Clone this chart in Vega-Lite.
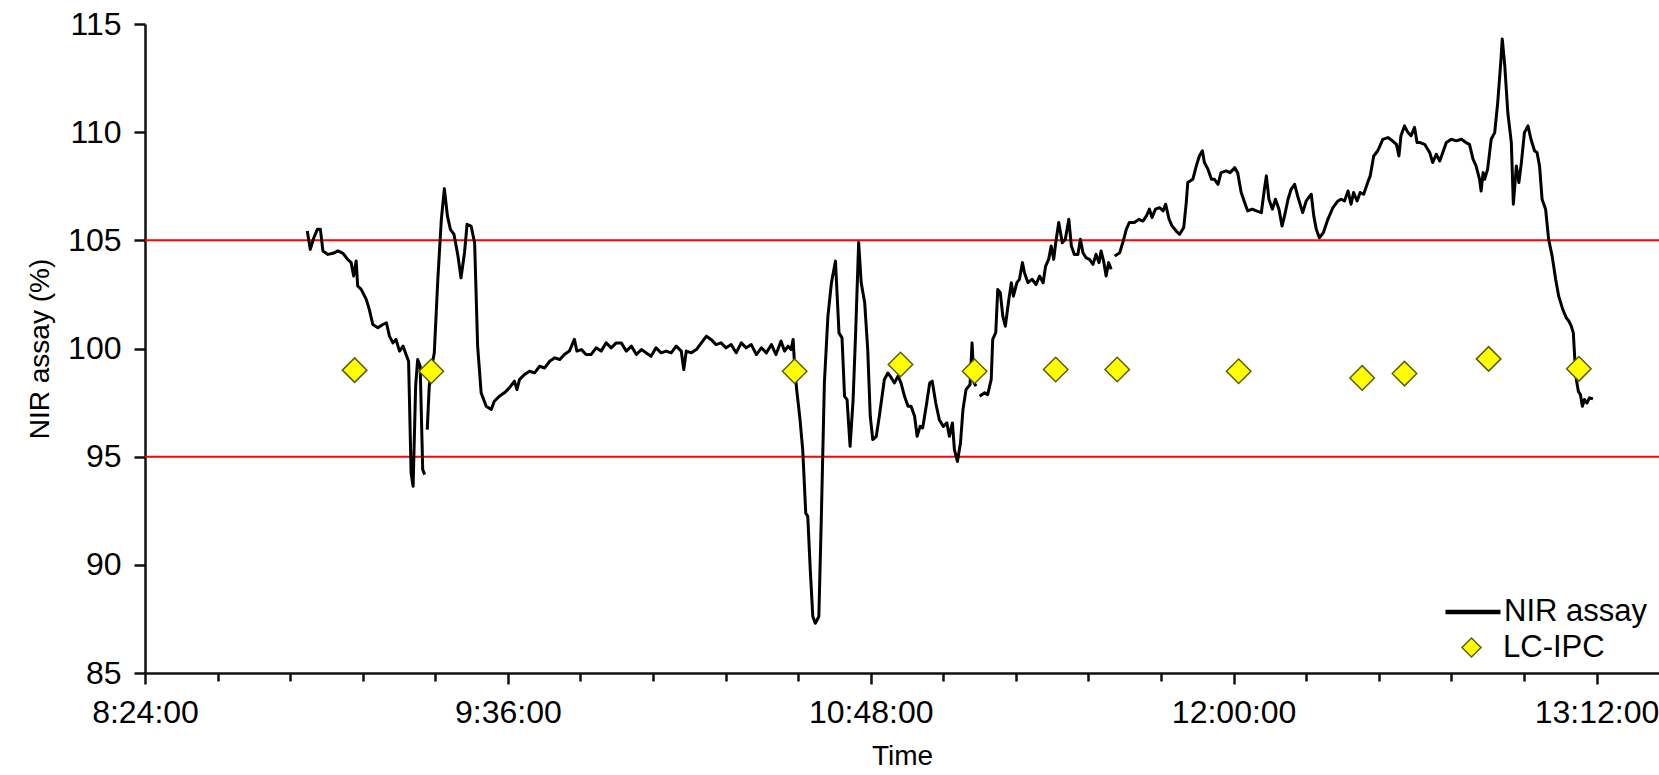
{
  "$schema": "https://vega.github.io/schema/vega-lite/v6.json",
  "width": 1514,
  "height": 649,
  "autosize": "none",
  "padding": {"left": 145, "top": 24, "right": 0, "bottom": 102},
  "background": "white",
  "config": {
    "view": {"stroke": null},
    "font": "Liberation Sans",
    "axis": {
      "grid": false,
      "domainColor": "#111111",
      "domainWidth": 2.5,
      "tickColor": "#111111",
      "tickWidth": 2.5,
      "labelColor": "#000000",
      "labelFont": "Liberation Sans",
      "labelFontSize": 32,
      "titleFont": "Liberation Sans",
      "titleFontSize": 28,
      "titleFontWeight": "normal",
      "titleColor": "#000000",
      "labelOverlap": false,
      "labelFlush": false
    }
  },
  "datasets": {
    "nir": [
      {"min": 536.2, "pct": 105.43, "seg": 1}, {"min": 536.8, "pct": 104.58, "seg": 1}, {"min": 537.5, "pct": 105.12, "seg": 1},
      {"min": 538.2, "pct": 105.51, "seg": 1}, {"min": 538.8, "pct": 105.51, "seg": 1}, {"min": 539.3, "pct": 104.51, "seg": 1},
      {"min": 540.3, "pct": 104.35, "seg": 1}, {"min": 541.3, "pct": 104.40, "seg": 1}, {"min": 542.3, "pct": 104.51, "seg": 1},
      {"min": 543.3, "pct": 104.40, "seg": 1}, {"min": 544.2, "pct": 104.12, "seg": 1}, {"min": 544.9, "pct": 103.97, "seg": 1},
      {"min": 545.4, "pct": 103.35, "seg": 1}, {"min": 545.9, "pct": 104.04, "seg": 1}, {"min": 546.2, "pct": 102.89, "seg": 1},
      {"min": 546.9, "pct": 102.73, "seg": 1}, {"min": 547.9, "pct": 102.27, "seg": 1}, {"min": 548.5, "pct": 101.81, "seg": 1},
      {"min": 549.2, "pct": 101.11, "seg": 1}, {"min": 550.2, "pct": 100.96, "seg": 1}, {"min": 551.2, "pct": 101.11, "seg": 1},
      {"min": 551.9, "pct": 101.19, "seg": 1}, {"min": 552.5, "pct": 100.57, "seg": 1}, {"min": 553.2, "pct": 100.26, "seg": 1},
      {"min": 553.8, "pct": 100.42, "seg": 1}, {"min": 554.5, "pct": 99.88, "seg": 1}, {"min": 555.2, "pct": 100.11, "seg": 1},
      {"min": 555.8, "pct": 99.72, "seg": 1}, {"min": 556.3, "pct": 99.41, "seg": 1}, {"min": 556.8, "pct": 94.24, "seg": 1},
      {"min": 557.2, "pct": 93.63, "seg": 1}, {"min": 557.7, "pct": 98.26, "seg": 1}, {"min": 558.1, "pct": 99.49, "seg": 1},
      {"min": 558.6, "pct": 99.18, "seg": 1}, {"min": 559.1, "pct": 94.40, "seg": 1}, {"min": 559.5, "pct": 94.17, "seg": 1},

      {"min": 560.0, "pct": 96.25, "seg": 2}, {"min": 560.4, "pct": 98.26, "seg": 2}, {"min": 560.8, "pct": 99.03, "seg": 2},
      {"min": 561.4, "pct": 99.80, "seg": 2}, {"min": 562.1, "pct": 103.19, "seg": 2}, {"min": 562.8, "pct": 105.97, "seg": 2},
      {"min": 563.4, "pct": 107.39, "seg": 2}, {"min": 564.0, "pct": 106.13, "seg": 2}, {"min": 564.6, "pct": 105.51, "seg": 2},
      {"min": 565.3, "pct": 105.28, "seg": 2}, {"min": 566.1, "pct": 104.27, "seg": 2}, {"min": 566.7, "pct": 103.27, "seg": 2},
      {"min": 567.4, "pct": 104.43, "seg": 2}, {"min": 567.9, "pct": 105.74, "seg": 2}, {"min": 568.7, "pct": 105.66, "seg": 2},
      {"min": 569.4, "pct": 104.89, "seg": 2}, {"min": 570.0, "pct": 100.11, "seg": 2}, {"min": 570.7, "pct": 97.95, "seg": 2},
      {"min": 571.7, "pct": 97.33, "seg": 2}, {"min": 572.7, "pct": 97.18, "seg": 2}, {"min": 573.3, "pct": 97.56, "seg": 2},
      {"min": 574.3, "pct": 97.79, "seg": 2}, {"min": 575.3, "pct": 97.95, "seg": 2}, {"min": 576.3, "pct": 98.18, "seg": 2},
      {"min": 577.3, "pct": 98.49, "seg": 2}, {"min": 577.8, "pct": 98.10, "seg": 2}, {"min": 578.3, "pct": 98.56, "seg": 2},
      {"min": 579.3, "pct": 98.80, "seg": 2}, {"min": 580.3, "pct": 98.95, "seg": 2}, {"min": 581.3, "pct": 98.87, "seg": 2},
      {"min": 582.3, "pct": 99.18, "seg": 2}, {"min": 583.3, "pct": 99.10, "seg": 2}, {"min": 584.3, "pct": 99.41, "seg": 2},
      {"min": 585.3, "pct": 99.57, "seg": 2}, {"min": 586.3, "pct": 99.49, "seg": 2}, {"min": 587.2, "pct": 99.72, "seg": 2},
      {"min": 588.2, "pct": 99.88, "seg": 2}, {"min": 589.2, "pct": 100.42, "seg": 2}, {"min": 589.7, "pct": 99.88, "seg": 2},
      {"min": 590.6, "pct": 99.95, "seg": 2}, {"min": 591.5, "pct": 99.72, "seg": 2}, {"min": 592.5, "pct": 99.72, "seg": 2},
      {"min": 593.5, "pct": 100.03, "seg": 2}, {"min": 594.5, "pct": 99.88, "seg": 2}, {"min": 595.5, "pct": 100.26, "seg": 2},
      {"min": 596.5, "pct": 100.03, "seg": 2}, {"min": 597.5, "pct": 100.26, "seg": 2}, {"min": 598.5, "pct": 100.26, "seg": 2},
      {"min": 599.5, "pct": 99.88, "seg": 2}, {"min": 600.5, "pct": 100.11, "seg": 2}, {"min": 601.5, "pct": 99.72, "seg": 2},
      {"min": 602.5, "pct": 99.95, "seg": 2}, {"min": 603.4, "pct": 99.80, "seg": 2}, {"min": 604.4, "pct": 99.64, "seg": 2},
      {"min": 605.4, "pct": 100.03, "seg": 2}, {"min": 606.4, "pct": 99.80, "seg": 2}, {"min": 607.4, "pct": 99.88, "seg": 2},
      {"min": 608.4, "pct": 99.80, "seg": 2}, {"min": 609.4, "pct": 100.11, "seg": 2}, {"min": 610.4, "pct": 99.88, "seg": 2},
      {"min": 610.9, "pct": 99.03, "seg": 2}, {"min": 611.4, "pct": 99.88, "seg": 2}, {"min": 612.4, "pct": 99.80, "seg": 2},
      {"min": 613.4, "pct": 99.95, "seg": 2}, {"min": 614.4, "pct": 100.26, "seg": 2}, {"min": 615.4, "pct": 100.57, "seg": 2},
      {"min": 616.3, "pct": 100.42, "seg": 2}, {"min": 617.3, "pct": 100.18, "seg": 2}, {"min": 618.3, "pct": 100.26, "seg": 2},
      {"min": 619.3, "pct": 100.03, "seg": 2}, {"min": 620.3, "pct": 100.18, "seg": 2}, {"min": 621.3, "pct": 99.80, "seg": 2},
      {"min": 622.3, "pct": 100.26, "seg": 2}, {"min": 623.3, "pct": 100.03, "seg": 2}, {"min": 624.3, "pct": 100.18, "seg": 2},
      {"min": 625.3, "pct": 99.72, "seg": 2}, {"min": 626.3, "pct": 100.03, "seg": 2}, {"min": 627.3, "pct": 99.80, "seg": 2},
      {"min": 628.3, "pct": 100.18, "seg": 2}, {"min": 629.2, "pct": 99.72, "seg": 2}, {"min": 630.2, "pct": 100.34, "seg": 2},
      {"min": 630.9, "pct": 99.88, "seg": 2}, {"min": 631.6, "pct": 100.11, "seg": 2}, {"min": 632.2, "pct": 99.95, "seg": 2},
      {"min": 632.6, "pct": 100.42, "seg": 2}, {"min": 632.9, "pct": 99.18, "seg": 2}, {"min": 633.3, "pct": 98.10, "seg": 2},
      {"min": 633.9, "pct": 96.87, "seg": 2}, {"min": 634.5, "pct": 95.33, "seg": 2}, {"min": 635.1, "pct": 92.39, "seg": 2},
      {"min": 635.5, "pct": 92.24, "seg": 2}, {"min": 636.0, "pct": 89.77, "seg": 2}, {"min": 636.5, "pct": 87.61, "seg": 2},
      {"min": 637.0, "pct": 87.30, "seg": 2}, {"min": 637.7, "pct": 87.61, "seg": 2}, {"min": 638.2, "pct": 92.24, "seg": 2},
      {"min": 638.8, "pct": 98.41, "seg": 2}, {"min": 639.5, "pct": 101.50, "seg": 2}, {"min": 640.2, "pct": 103.04, "seg": 2},
      {"min": 641.0, "pct": 104.04, "seg": 2}, {"min": 641.7, "pct": 100.72, "seg": 2}, {"min": 642.3, "pct": 100.49, "seg": 2},
      {"min": 642.8, "pct": 97.79, "seg": 2}, {"min": 643.3, "pct": 97.64, "seg": 2}, {"min": 643.9, "pct": 95.48, "seg": 2},
      {"min": 644.5, "pct": 97.64, "seg": 2}, {"min": 645.0, "pct": 100.72, "seg": 2}, {"min": 645.6, "pct": 104.90, "seg": 2},
      {"min": 646.1, "pct": 103.04, "seg": 2}, {"min": 646.8, "pct": 102.11, "seg": 2}, {"min": 647.4, "pct": 99.95, "seg": 2},
      {"min": 647.9, "pct": 96.87, "seg": 2}, {"min": 648.4, "pct": 95.79, "seg": 2}, {"min": 649.1, "pct": 95.94, "seg": 2},
      {"min": 649.7, "pct": 96.87, "seg": 2}, {"min": 650.7, "pct": 98.57, "seg": 2}, {"min": 651.4, "pct": 98.87, "seg": 2},
      {"min": 652.1, "pct": 98.64, "seg": 2}, {"min": 652.7, "pct": 98.41, "seg": 2}, {"min": 653.4, "pct": 98.72, "seg": 2},
      {"min": 654.0, "pct": 98.41, "seg": 2}, {"min": 654.7, "pct": 97.79, "seg": 2}, {"min": 655.4, "pct": 97.33, "seg": 2},
      {"min": 656.0, "pct": 97.33, "seg": 2}, {"min": 656.7, "pct": 96.87, "seg": 2}, {"min": 657.2, "pct": 95.94, "seg": 2},
      {"min": 657.8, "pct": 96.40, "seg": 2}, {"min": 658.3, "pct": 96.33, "seg": 2}, {"min": 659.0, "pct": 97.33, "seg": 2},
      {"min": 659.7, "pct": 98.41, "seg": 2}, {"min": 660.2, "pct": 98.49, "seg": 2}, {"min": 660.9, "pct": 97.48, "seg": 2},
      {"min": 661.6, "pct": 96.71, "seg": 2}, {"min": 662.4, "pct": 96.40, "seg": 2}, {"min": 663.1, "pct": 96.56, "seg": 2},
      {"min": 663.6, "pct": 95.94, "seg": 2}, {"min": 664.2, "pct": 96.56, "seg": 2}, {"min": 664.6, "pct": 95.33, "seg": 2},
      {"min": 665.2, "pct": 94.78, "seg": 2}, {"min": 665.8, "pct": 95.63, "seg": 2}, {"min": 666.3, "pct": 97.18, "seg": 2},
      {"min": 666.9, "pct": 98.10, "seg": 2}, {"min": 667.7, "pct": 98.33, "seg": 2}, {"min": 668.1, "pct": 100.26, "seg": 2},
      {"min": 668.5, "pct": 98.41, "seg": 2}, {"min": 668.9, "pct": 98.26, "seg": 2},

      {"min": 669.6, "pct": 97.79, "seg": 3}, {"min": 670.6, "pct": 97.95, "seg": 3}, {"min": 671.2, "pct": 97.87, "seg": 3},
      {"min": 671.9, "pct": 98.57, "seg": 3}, {"min": 672.2, "pct": 100.42, "seg": 3}, {"min": 672.8, "pct": 100.73, "seg": 3},
      {"min": 673.2, "pct": 102.73, "seg": 3}, {"min": 673.7, "pct": 102.58, "seg": 3}, {"min": 674.2, "pct": 101.50, "seg": 3},
      {"min": 674.7, "pct": 101.03, "seg": 3}, {"min": 675.4, "pct": 102.27, "seg": 3}, {"min": 675.9, "pct": 103.04, "seg": 3},
      {"min": 676.3, "pct": 102.42, "seg": 3}, {"min": 677.0, "pct": 103.04, "seg": 3}, {"min": 677.5, "pct": 103.20, "seg": 3},
      {"min": 678.1, "pct": 103.97, "seg": 3}, {"min": 678.5, "pct": 103.50, "seg": 3}, {"min": 679.2, "pct": 103.04, "seg": 3},
      {"min": 680.0, "pct": 103.20, "seg": 3}, {"min": 680.8, "pct": 102.96, "seg": 3}, {"min": 681.5, "pct": 103.35, "seg": 3},
      {"min": 682.2, "pct": 103.04, "seg": 3}, {"min": 682.7, "pct": 103.81, "seg": 3}, {"min": 683.3, "pct": 104.12, "seg": 3},
      {"min": 683.8, "pct": 104.74, "seg": 3}, {"min": 684.3, "pct": 104.12, "seg": 3}, {"min": 684.7, "pct": 104.89, "seg": 3},
      {"min": 685.3, "pct": 105.82, "seg": 3}, {"min": 686.0, "pct": 104.89, "seg": 3}, {"min": 686.6, "pct": 105.05, "seg": 3},
      {"min": 687.3, "pct": 105.97, "seg": 3}, {"min": 687.8, "pct": 104.74, "seg": 3}, {"min": 688.4, "pct": 104.35, "seg": 3},
      {"min": 689.1, "pct": 104.35, "seg": 3}, {"min": 689.6, "pct": 105.05, "seg": 3}, {"min": 690.1, "pct": 104.43, "seg": 3},
      {"min": 690.7, "pct": 104.20, "seg": 3}, {"min": 691.4, "pct": 104.12, "seg": 3}, {"min": 692.1, "pct": 103.89, "seg": 3},
      {"min": 692.7, "pct": 104.35, "seg": 3}, {"min": 693.3, "pct": 103.97, "seg": 3}, {"min": 693.7, "pct": 104.51, "seg": 3},
      {"min": 694.2, "pct": 104.04, "seg": 3}, {"min": 694.7, "pct": 103.35, "seg": 3}, {"min": 695.2, "pct": 103.97, "seg": 3},
      {"min": 695.7, "pct": 103.66, "seg": 3},

      {"min": 696.4, "pct": 104.27, "seg": 4}, {"min": 697.4, "pct": 104.43, "seg": 4}, {"min": 698.2, "pct": 105.05, "seg": 4},
      {"min": 698.7, "pct": 105.51, "seg": 4}, {"min": 699.3, "pct": 105.82, "seg": 4}, {"min": 700.3, "pct": 105.82, "seg": 4},
      {"min": 701.2, "pct": 105.97, "seg": 4}, {"min": 702.0, "pct": 105.89, "seg": 4}, {"min": 702.7, "pct": 106.13, "seg": 4},
      {"min": 703.3, "pct": 106.44, "seg": 4}, {"min": 703.8, "pct": 106.05, "seg": 4}, {"min": 704.5, "pct": 106.44, "seg": 4},
      {"min": 705.3, "pct": 106.51, "seg": 4}, {"min": 706.0, "pct": 106.36, "seg": 4}, {"min": 706.5, "pct": 106.67, "seg": 4},
      {"min": 707.2, "pct": 105.97, "seg": 4}, {"min": 707.8, "pct": 105.66, "seg": 4}, {"min": 708.6, "pct": 105.43, "seg": 4},
      {"min": 709.3, "pct": 105.28, "seg": 4}, {"min": 710.1, "pct": 105.59, "seg": 4}, {"min": 710.6, "pct": 106.74, "seg": 4},
      {"min": 710.9, "pct": 107.67, "seg": 4}, {"min": 711.9, "pct": 107.82, "seg": 4}, {"min": 712.6, "pct": 108.44, "seg": 4},
      {"min": 713.2, "pct": 108.90, "seg": 4}, {"min": 713.8, "pct": 109.14, "seg": 4}, {"min": 714.2, "pct": 108.60, "seg": 4},
      {"min": 714.9, "pct": 108.29, "seg": 4}, {"min": 715.6, "pct": 107.82, "seg": 4}, {"min": 716.2, "pct": 107.82, "seg": 4},
      {"min": 716.9, "pct": 107.59, "seg": 4}, {"min": 717.5, "pct": 108.13, "seg": 4}, {"min": 718.5, "pct": 108.21, "seg": 4},
      {"min": 719.3, "pct": 108.13, "seg": 4}, {"min": 720.2, "pct": 108.36, "seg": 4}, {"min": 720.8, "pct": 108.13, "seg": 4},
      {"min": 721.5, "pct": 107.21, "seg": 4}, {"min": 722.2, "pct": 106.74, "seg": 4}, {"min": 722.8, "pct": 106.36, "seg": 4},
      {"min": 723.7, "pct": 106.44, "seg": 4}, {"min": 724.5, "pct": 106.36, "seg": 4}, {"min": 725.5, "pct": 106.28, "seg": 4},
      {"min": 726.1, "pct": 107.36, "seg": 4}, {"min": 726.5, "pct": 107.98, "seg": 4}, {"min": 727.0, "pct": 106.90, "seg": 4},
      {"min": 727.7, "pct": 106.44, "seg": 4}, {"min": 728.3, "pct": 106.90, "seg": 4}, {"min": 729.0, "pct": 106.44, "seg": 4},
      {"min": 729.6, "pct": 105.66, "seg": 4}, {"min": 730.1, "pct": 106.13, "seg": 4}, {"min": 730.8, "pct": 106.90, "seg": 4},
      {"min": 731.4, "pct": 107.36, "seg": 4}, {"min": 732.1, "pct": 107.59, "seg": 4}, {"min": 732.7, "pct": 107.05, "seg": 4},
      {"min": 733.7, "pct": 106.28, "seg": 4}, {"min": 734.4, "pct": 106.82, "seg": 4}, {"min": 735.4, "pct": 107.13, "seg": 4},
      {"min": 735.9, "pct": 106.13, "seg": 4}, {"min": 736.4, "pct": 105.51, "seg": 4}, {"min": 737.0, "pct": 105.12, "seg": 4},
      {"min": 737.8, "pct": 105.35, "seg": 4}, {"min": 738.7, "pct": 105.97, "seg": 4}, {"min": 739.7, "pct": 106.51, "seg": 4},
      {"min": 740.7, "pct": 106.82, "seg": 4}, {"min": 741.3, "pct": 106.90, "seg": 4}, {"min": 742.0, "pct": 106.82, "seg": 4},
      {"min": 742.7, "pct": 107.28, "seg": 4}, {"min": 743.3, "pct": 106.67, "seg": 4}, {"min": 743.8, "pct": 107.21, "seg": 4},
      {"min": 744.5, "pct": 106.82, "seg": 4}, {"min": 745.1, "pct": 107.21, "seg": 4}, {"min": 745.8, "pct": 107.13, "seg": 4},
      {"min": 746.6, "pct": 107.67, "seg": 4}, {"min": 747.1, "pct": 107.98, "seg": 4}, {"min": 747.8, "pct": 108.90, "seg": 4},
      {"min": 748.6, "pct": 109.14, "seg": 4}, {"min": 749.6, "pct": 109.67, "seg": 4}, {"min": 750.6, "pct": 109.75, "seg": 4},
      {"min": 751.5, "pct": 109.60, "seg": 4}, {"min": 752.3, "pct": 109.44, "seg": 4}, {"min": 752.8, "pct": 108.90, "seg": 4},
      {"min": 753.2, "pct": 109.83, "seg": 4}, {"min": 753.9, "pct": 110.29, "seg": 4}, {"min": 754.6, "pct": 109.98, "seg": 4},
      {"min": 755.2, "pct": 109.83, "seg": 4}, {"min": 755.9, "pct": 110.22, "seg": 4}, {"min": 756.4, "pct": 109.52, "seg": 4},
      {"min": 757.0, "pct": 109.52, "seg": 4}, {"min": 757.9, "pct": 109.44, "seg": 4}, {"min": 758.9, "pct": 109.06, "seg": 4},
      {"min": 759.5, "pct": 108.60, "seg": 4}, {"min": 760.2, "pct": 108.98, "seg": 4}, {"min": 760.9, "pct": 108.67, "seg": 4},
      {"min": 761.5, "pct": 109.06, "seg": 4}, {"min": 762.2, "pct": 109.52, "seg": 4}, {"min": 763.2, "pct": 109.67, "seg": 4},
      {"min": 764.2, "pct": 109.60, "seg": 4}, {"min": 765.2, "pct": 109.67, "seg": 4}, {"min": 766.1, "pct": 109.52, "seg": 4},
      {"min": 766.8, "pct": 109.44, "seg": 4}, {"min": 767.5, "pct": 108.75, "seg": 4}, {"min": 768.1, "pct": 108.44, "seg": 4},
      {"min": 768.8, "pct": 107.82, "seg": 4}, {"min": 769.1, "pct": 107.28, "seg": 4}, {"min": 769.5, "pct": 108.13, "seg": 4},
      {"min": 769.8, "pct": 107.82, "seg": 4}, {"min": 770.4, "pct": 108.29, "seg": 4}, {"min": 771.1, "pct": 109.67, "seg": 4},
      {"min": 771.8, "pct": 109.98, "seg": 4}, {"min": 772.4, "pct": 111.37, "seg": 4}, {"min": 773.0, "pct": 113.22, "seg": 4},
      {"min": 773.3, "pct": 114.31, "seg": 4}, {"min": 773.8, "pct": 113.07, "seg": 4}, {"min": 774.4, "pct": 110.91, "seg": 4},
      {"min": 775.1, "pct": 109.52, "seg": 4}, {"min": 775.5, "pct": 106.67, "seg": 4}, {"min": 776.1, "pct": 108.44, "seg": 4},
      {"min": 776.6, "pct": 107.67, "seg": 4}, {"min": 777.1, "pct": 108.60, "seg": 4}, {"min": 777.7, "pct": 109.98, "seg": 4},
      {"min": 778.4, "pct": 110.29, "seg": 4}, {"min": 779.0, "pct": 109.67, "seg": 4}, {"min": 779.7, "pct": 109.14, "seg": 4},
      {"min": 780.2, "pct": 109.06, "seg": 4}, {"min": 780.7, "pct": 108.44, "seg": 4}, {"min": 781.2, "pct": 106.90, "seg": 4},
      {"min": 781.9, "pct": 106.44, "seg": 4}, {"min": 782.5, "pct": 105.05, "seg": 4}, {"min": 783.2, "pct": 104.27, "seg": 4},
      {"min": 783.9, "pct": 103.19, "seg": 4}, {"min": 784.5, "pct": 102.42, "seg": 4}, {"min": 785.3, "pct": 101.81, "seg": 4},
      {"min": 786.0, "pct": 101.42, "seg": 4}, {"min": 786.5, "pct": 101.27, "seg": 4}, {"min": 787.0, "pct": 101.03, "seg": 4},
      {"min": 787.4, "pct": 100.72, "seg": 4}, {"min": 787.7, "pct": 99.49, "seg": 4}, {"min": 788.0, "pct": 98.56, "seg": 4},
      {"min": 788.4, "pct": 98.02, "seg": 4}, {"min": 788.8, "pct": 97.87, "seg": 4}, {"min": 789.2, "pct": 97.33, "seg": 4},
      {"min": 789.6, "pct": 97.64, "seg": 4}, {"min": 790.1, "pct": 97.48, "seg": 4}, {"min": 790.6, "pct": 97.72, "seg": 4},
      {"min": 791.3, "pct": 97.67, "seg": 4}
    ],
    "lc": [
      {"min": 545.6, "pct": 99.00}, {"min": 560.8, "pct": 98.95}, {"min": 632.9, "pct": 98.95},
      {"min": 653.9, "pct": 99.26}, {"min": 668.6, "pct": 98.95}, {"min": 684.7, "pct": 99.03},
      {"min": 696.9, "pct": 99.03}, {"min": 721.0, "pct": 98.95}, {"min": 745.5, "pct": 98.64},
      {"min": 753.9, "pct": 98.84}, {"min": 770.6, "pct": 99.52}, {"min": 788.5, "pct": 99.06}
    ],
    "limits": [{"level": 95}, {"level": 105}]
  },
  "layer": [
    {
      "data": {"name": "limits"},
      "mark": {"type": "rule", "color": "#ff0000", "strokeWidth": 2},
      "encoding": {
        "y": {
          "field": "level",
          "type": "quantitative",
          "scale": {"domain": [85, 115], "nice": false, "zero": false},
          "axis": {
            "title": "NIR assay (%)",
            "values": [85, 90, 95, 100, 105, 110, 115],
            "tickSize": 11,
            "labelPadding": 13,
            "titlePadding": 13
          }
        }
      }
    },
    {
      "mark": {"type": "rule", "color": "#6db34f", "strokeWidth": 2},
      "encoding": {"y": {"datum": 100, "type": "quantitative"}}
    },
    {
      "data": {"name": "nir"},
      "mark": {"type": "line", "strokeWidth": 3, "strokeJoin": "round"},
      "encoding": {
        "x": {
          "field": "min",
          "type": "quantitative",
          "scale": {"domain": [504, 804.4], "nice": false, "zero": false},
          "axis": {
            "title": "Time",
            "values": [504, 518.4, 532.8, 547.2, 561.6, 576, 590.4, 604.8, 619.2, 633.6, 648, 662.4, 676.8, 691.2, 705.6, 720, 734.4, 748.8, 763.2, 777.6, 792],
            "labelExpr": "datum.value % 72 == 0 ? timeFormat(datetime(2000, 0, 1, 0, datum.value), '%-H:%M:%S') : ''",
            "tickSize": {"condition": {"test": "datum.value % 72 == 0", "value": 11}, "value": 8},
            "labelPadding": 13,
            "titlePadding": 14
          }
        },
        "y": {"field": "pct", "type": "quantitative"},
        "detail": {"field": "seg", "type": "nominal"},
        "color": {
          "datum": "NIR assay",
          "type": "nominal",
          "scale": {"domain": ["NIR assay"], "range": ["#000000"]},
          "legend": {
            "title": null,
            "orient": "none",
            "legendX": 1298,
            "legendY": 558,
            "padding": 0,
            "symbolType": "stroke",
            "symbolSize": 3025,
            "symbolStrokeWidth": 4.5,
            "labelOffset": 1,
            "labelFont": "Liberation Sans",
            "labelFontSize": 31,
            "labelColor": "#000000"
          }
        }
      }
    },
    {
      "data": {"name": "lc"},
      "mark": {"type": "point", "shape": "diamond", "filled": true, "size": 600, "stroke": "#5e5e0a", "strokeWidth": 1.5, "opacity": 1},
      "encoding": {
        "x": {"field": "min", "type": "quantitative"},
        "y": {"field": "pct", "type": "quantitative"},
        "fill": {
          "datum": "LC-IPC",
          "type": "nominal",
          "scale": {"domain": ["LC-IPC"], "range": ["#ffff00"]},
          "legend": {
            "title": null,
            "orient": "none",
            "legendX": 1311,
            "legendY": 608,
            "padding": 0,
            "symbolType": "diamond",
            "symbolSize": 360,
            "symbolStrokeColor": "#5e5e0a",
            "symbolStrokeWidth": 1.5,
            "labelOffset": 16,
            "labelFont": "Liberation Sans",
            "labelFontSize": 31,
            "labelColor": "#000000"
          }
        }
      }
    },
    {
      "mark": {"type": "rule", "color": "#111111", "strokeWidth": 2.5},
      "encoding": {"y": {"datum": 115, "type": "quantitative"}}
    }
  ]
}
